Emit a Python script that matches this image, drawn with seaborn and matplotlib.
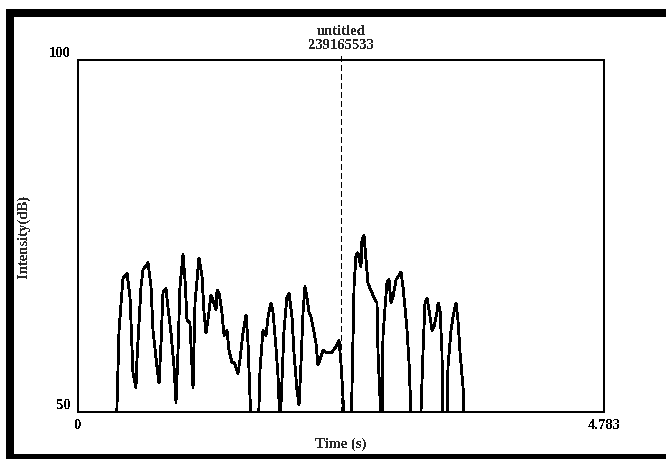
import matplotlib
matplotlib.use("Agg")
import matplotlib.pyplot as plt
import matplotlib.patches as mpatches
import matplotlib.transforms as mtransforms
import seaborn as sns
import pandas as pd

# Intensity contour (dB) against time (s); values under the 50 dB floor fall off the plot
time_s = [
    0.346, 0.373, 0.409, 0.446, 0.473, 0.500, 0.527, 0.536, 0.573, 0.591,
    0.637, 0.664, 0.682, 0.718, 0.737, 0.755, 0.773, 0.800, 0.818, 0.846,
    0.873, 0.891, 0.909, 0.927, 0.955, 0.973, 0.991, 1.018, 1.046, 1.064,
    1.100, 1.128, 1.146, 1.164, 1.182, 1.209, 1.228, 1.255, 1.264, 1.282,
    1.309, 1.328, 1.355, 1.373, 1.400, 1.419, 1.455, 1.473, 1.500, 1.528,
    1.546, 1.564, 1.582, 1.637, 1.655, 1.682, 1.710, 1.728, 1.755, 1.773,
    1.800, 1.819, 1.837, 1.855, 1.873, 1.900, 1.919, 1.946, 1.964, 1.991,
    2.010, 2.028, 2.046, 2.064, 2.082, 2.101, 2.119, 2.137, 2.164, 2.182,
    2.201, 2.228, 2.264, 2.310, 2.355, 2.373, 2.391, 2.410, 2.419, 2.482,
    2.501, 2.510, 2.528, 2.546, 2.573, 2.582, 2.601, 2.619, 2.637, 2.655,
    2.673, 2.692, 2.719, 2.728, 2.746, 2.764, 2.773, 2.792, 2.810, 2.828,
    2.846, 2.864, 2.892, 2.910, 2.937, 2.955, 2.973, 2.992, 3.010, 3.037,
    3.110, 3.137, 3.155, 3.174, 3.192, 3.219, 3.237, 3.264, 3.274, 3.292,
    3.310, 3.319, 3.355, 3.364, 3.392, 3.410, 3.437, 3.455, 3.474, 3.501,
    3.519,
]
intensity_db = [
    46.0, 61.6, 69.0, 69.7, 66.3, 55.5, 53.4, 57.4, 67.8, 70.2,
    71.2, 67.8, 61.6, 56.4, 54.1, 59.8, 67.0, 67.5, 64.9, 61.2,
    56.4, 51.4, 58.4, 67.8, 72.4, 68.8, 63.1, 62.6, 53.4, 65.5,
    71.9, 69.2, 64.1, 61.2, 63.1, 66.6, 65.9, 64.5, 67.3, 67.0,
    64.1, 60.9, 61.6, 58.8, 57.0, 57.1, 55.5, 57.4, 61.2, 63.8,
    59.8, 52.1, 46.0, 46.0, 56.0, 61.6, 60.9, 63.5, 65.5, 64.2,
    59.2, 55.0, 48.0, 54.5, 61.6, 66.3, 66.9, 63.5, 58.4, 53.1,
    51.0, 57.0, 64.1, 67.8, 66.3, 64.1, 63.5, 62.1, 59.8, 56.7,
    57.4, 58.8, 58.4, 58.5, 59.5, 60.2, 57.0, 52.1, 46.0, 46.0,
    60.7, 67.8, 72.3, 72.6, 70.6, 74.4, 75.1, 71.6, 68.3, 67.6,
    67.0, 66.2, 65.5, 58.4, 52.1, 47.0, 60.7, 64.9, 68.5, 68.8,
    65.5, 66.3, 68.8, 69.2, 69.9, 67.8, 64.9, 61.6, 57.0, 46.0,
    46.0, 58.4, 65.5, 66.2, 64.5, 61.6, 62.1, 64.1, 65.5, 64.5,
    58.4, 46.0, 46.0, 56.4, 61.6, 63.5, 65.5, 63.1, 58.4, 53.6,
    46.0,
]

x_range = [0.0, 4.783]
y_range = [50, 100]
x_tick_labels = ["0", "4.783"]
y_tick_labels = ["50", "100"]
cursor_time = 2.391
title_lines = ["untitled", "239165533"]
x_label = "Time (s)"
y_label = "Intensity(dB)"

sns.set_style("white")
plt.rcParams["font.family"] = ["Liberation Serif", "DejaVu Serif"]
plt.rcParams["font.weight"] = "bold"
plt.rcParams["axes.labelweight"] = "bold"
plt.rcParams["text.antialiased"] = False
plt.rcParams["font.size"] = 10.5

W, H = 666, 459
fig = plt.figure(figsize=(W / 100, H / 100), dpi=100)
fig.patch.set_facecolor("white")

# heavy frame along the left, top and bottom edges
def px_rect(x0, y0, x1, y1):
    return mpatches.Rectangle((x0 / W, 1 - y1 / H), (x1 - x0) / W, (y1 - y0) / H,
                              transform=fig.transFigure, facecolor="black",
                              edgecolor="none", antialiased=False)

fig.patches.extend([
    px_rect(6, 9, 14, 459),
    px_rect(6, 9, 666, 17),
    px_rect(6, 454, 666, 459),
])

ax = fig.add_axes([78 / W, (H - 412) / H, 526 / W, 352 / H])
ax.set_facecolor("white")

df = pd.DataFrame({"time": time_s, "intensity": intensity_db})
sns.lineplot(data=df, x="time", y="intensity", ax=ax, color="black",
             linewidth=1.3, estimator=None, sort=False, antialiased=False)

ax.set_xlim(*x_range)
ax.set_ylim(*y_range)

for s in ax.spines.values():
    s.set_visible(True)
    s.set_color("black")
    s.set_linewidth(1.4)
    s.set_antialiased(False)

ax.set_xticks(x_range)
ax.set_xticklabels(x_tick_labels)
ax.set_yticks(y_range)
ax.set_yticklabels(y_tick_labels, va="bottom")
ax.tick_params(axis="both", direction="out", length=4, width=1.2,
               color="black", labelcolor="black", pad=1)
ax.tick_params(axis="y", length=5, pad=0)
ax.xaxis.get_major_ticks()[1].tick1line.set_visible(False)

ax.set_xlabel(x_label, labelpad=4)
ax.set_ylabel(y_label)
ax.yaxis.set_label_coords(-0.091, 0.5)

# cursor line with its label above the plot
ax.axvline(cursor_time, color="black", linewidth=1.0, linestyle=(0, (3.6, 2.2)),
           ymax=1.01, clip_on=False, antialiased=False)
trans = mtransforms.blended_transform_factory(ax.transData, ax.transAxes)
ax.annotate("\n".join(title_lines), xy=(cursor_time, 1.0), xycoords=trans,
            xytext=(0, 6), textcoords="offset points", ha="center", va="bottom",
            linespacing=1.1)

fig.savefig("out.png", dpi=100)
